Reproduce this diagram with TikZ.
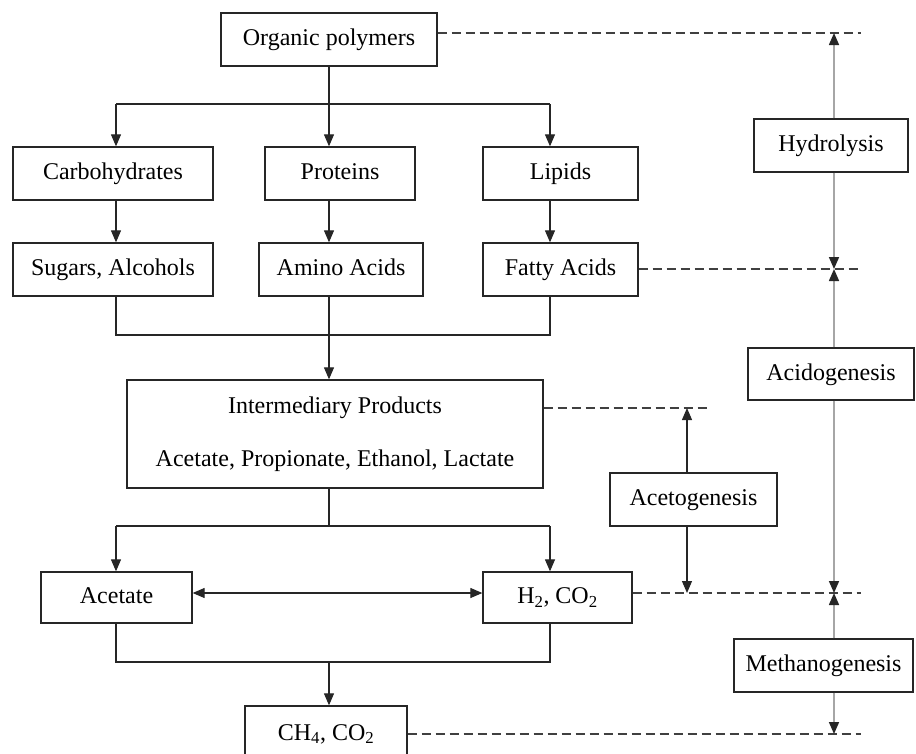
\documentclass[tikz,border=0pt]{standalone}
\usepackage{fontspec}
\setmainfont{Liberation Serif}
\usetikzlibrary{arrows.meta}
\begin{document}
\begin{tikzpicture}[x=1pt,y=-1pt,
  box/.style={draw=black!85, line width=1.3pt, inner sep=0pt, fill=white,
    font=\fontsize{24}{28}\selectfont, align=center},
  sbox/.style={box, text height=16pt, text depth=4pt},
  ln/.style={line width=1.2pt, draw=black!85},
  tip/.tip={Triangle[length=12pt,width=10pt]},
  arr/.style={ln, -tip},
  dbl/.style={ln, tip-tip},
  dsh/.style={line width=1.2pt, draw=black!75, dash pattern=on 9pt off 5pt},
  garr/.style={line width=1.6pt, draw=black!35, -{Triangle[length=12pt,width=10pt,color=black!85]}}]
\useasboundingbox (0,0) rectangle (916,753);

% nodes
\node[sbox, minimum width=216, minimum height=53] (op) at (329,39.5) {Organic polymers};
\node[sbox, minimum width=200, minimum height=53] (carb) at (113,173.5) {Carbohydrates};
\node[sbox, minimum width=150, minimum height=53] (prot) at (340,173.5) {Proteins};
\node[sbox, minimum width=155, minimum height=53] (lip) at (560.5,173.5) {Lipids};
\node[sbox, minimum width=200, minimum height=53] (sug) at (113,269.5) {Sugars, Alcohols};
\node[sbox, minimum width=164, minimum height=53] (amino) at (341,269.5) {Amino Acids};
\node[sbox, minimum width=155, minimum height=53] (fatty) at (560.5,269.5) {Fatty Acids};
\node[box, minimum width=416, minimum height=108] (inter) at (335,434)
  {Intermediary Products\\[25pt]Acetate, Propionate, Ethanol, Lactate};
\node[sbox, minimum width=151, minimum height=51] (ace) at (116.5,597.5) {Acetate};
\node[sbox, minimum width=149, minimum height=51] (h2) at (557.5,597.5) {H\textsubscript{2}, CO\textsubscript{2}};
\node[sbox, minimum width=162, minimum height=56] (ch4) at (326,734) {CH\textsubscript{4}, CO\textsubscript{2}};
\node[sbox, minimum width=154, minimum height=53] (hyd) at (831,145.5) {Hydrolysis};
\node[sbox, minimum width=166, minimum height=52] (acid) at (831,374) {Acidogenesis};
\node[sbox, minimum width=179, minimum height=53] (meth) at (823.5,665.5) {Methanogenesis};
\node[sbox, minimum width=167, minimum height=53] (aceto) at (693.5,499.5) {Acetogenesis};

% junction coordinates
\coordinate (j1) at (329,104);
\coordinate (jL) at (116,104);
\coordinate (jR) at (550,104);
\coordinate (j2) at (329,335);
\coordinate (j3) at (329,526);
\coordinate (j4) at (329,662);
\coordinate (yA) at (0,593);

% main flow
\draw[ln] (op.south -| j1) -- (j1);
\draw[ln] (jL) -- (jR);
\draw[arr] (jL) -- (jL |- carb.north);
\draw[arr] (j1) -- (j1 |- prot.north);
\draw[arr] (jR) -- (jR |- lip.north);
\draw[arr] (jL |- carb.south) -- (jL |- sug.north);
\draw[arr] (j1 |- prot.south) -- (j1 |- amino.north);
\draw[arr] (jR |- lip.south) -- (jR |- fatty.north);
\draw[ln] (jL |- sug.south) -- (jL |- j2) -- (jR |- j2) -- (jR |- fatty.south);
\draw[ln] (j1 |- amino.south) -- (j2);
\draw[arr] (j2) -- (j2 |- inter.north);
\draw[ln] (j2 |- inter.south) -- (j3);
\draw[ln] (jL |- j3) -- (jR |- j3);
\draw[arr] (jL |- j3) -- (jL |- ace.north);
\draw[arr] (jR |- j3) -- (jR |- h2.north);
\draw[ln] (jL |- ace.south) -- (jL |- j4) -- (jR |- j4) -- (jR |- h2.south);
\draw[arr] (j4) -- (j4 |- ch4.north);
\draw[dbl] (ace.east |- yA) -- (h2.west |- yA);

% stage markers
\coordinate (g0) at (834,33);
\coordinate (g1) at (834,269);
\coordinate (g2) at (834,593);
\coordinate (g3) at (834,734);
\coordinate (a0) at (687,408);
\coordinate (a1) at (687,593);
\coordinate (e0) at (861,33);
\coordinate (e1) at (861,269);
\coordinate (e2) at (861,593);
\coordinate (e3) at (861,734);
\coordinate (e4) at (710,408);

\draw[dsh] (op.east |- g0) -- (e0);
\draw[dsh] (fatty.east |- g1) -- (e1);
\draw[dsh] (inter.east |- a0) -- (e4);
\draw[dsh] (h2.east |- g2) -- (e2);
\draw[dsh] (ch4.east |- g3) -- (e3);

\draw[garr] (hyd.north -| g0) -- (g0);
\draw[garr] (hyd.south -| g0) -- (g1);
\draw[garr] (acid.north -| g1) -- (g1);
\draw[garr] (acid.south -| g1) -- (g2);
\draw[garr] (meth.north -| g2) -- (g2);
\draw[garr] (meth.south -| g2) -- (g3);
\draw[arr] (aceto.north -| a0) -- (a0);
\draw[arr] (aceto.south -| a0) -- (a1);
\end{tikzpicture}
\end{document}
